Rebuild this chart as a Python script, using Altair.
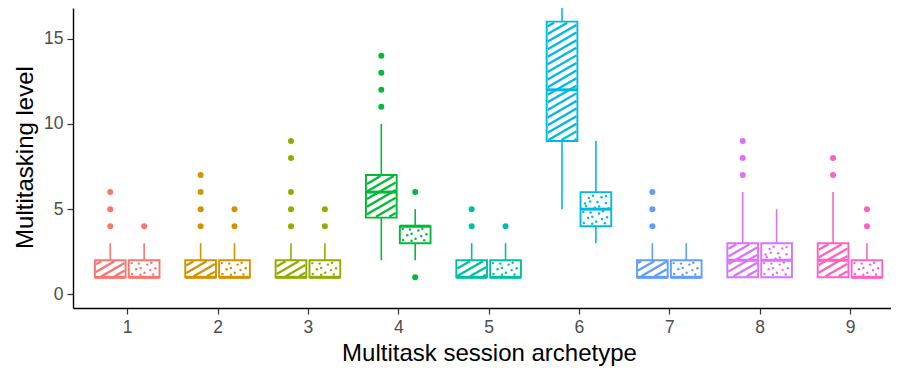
import math
import altair as alt
import pandas as pd

# ---- data ----
groups = [1, 2, 3, 4, 5, 6, 7, 8, 9]
colors = ["#F8766D", "#D39200", "#93AA00", "#00BA38", "#00C19F",
          "#00B9E3", "#619CFF", "#DB72FB", "#FF61C3"]

# striped boxes (first of each pair)
q1_a = [1, 1, 1, 4.5, 1, 9, 1, 1, 1]
med_a = [1, 1, 1, 6, 1, 12, 1, 2, 2]
q3_a = [2, 2, 2, 7, 2, 16, 2, 3, 3]
lo_a = [1, 1, 1, 2, 1, 5, 1, 1, 1]
hi_a = [3, 3, 3, 10, 3, 20, 3, 6, 6]
out_a = [[4, 5, 6], [4, 5, 6, 7], [4, 5, 6, 8, 9], [11, 12, 13, 14], [4, 5],
         [], [4, 5, 6], [7, 8, 9], [7, 8]]

# dotted boxes (second of each pair)
q1_b = [1, 1, 1, 3, 1, 4, 1, 1, 1]
med_b = [1, 1, 1, 4, 1, 5, 1, 2, 1]
q3_b = [2, 2, 2, 4, 2, 6, 2, 3, 2]
lo_b = [1, 1, 1, 2, 1, 3, 1, 1, 1]
hi_b = [3, 3, 3, 5, 3, 9, 3, 5, 3]
out_b = [[4], [4, 5], [4, 5], [6, 1], [4], [], [], [], [4, 5]]

x_ticks = [1, 2, 3, 4, 5, 6, 7, 8, 9]
y_ticks = [0, 5, 10, 15]

# ---- layout / scale constants ----
W, H = 818, 300
PXU = 90.35
XDOM = [0.4, 0.4 + W / PXU]
YDOM = [-0.8, 16.8]
pxu = W / (XDOM[1] - XDOM[0])
pyv = H / (YDOM[1] - YDOM[0])
BW = 0.34
DODGE = 0.1875

boxes, outs, hatch, dots = [], [], [], []
series = [("stripe", -DODGE, q1_a, med_a, q3_a, lo_a, hi_a, out_a),
          ("dot", DODGE, q1_b, med_b, q3_b, lo_b, hi_b, out_b)]
for kind, off, q1s, meds, q3s, los, his, outl in series:
    for i, g in enumerate(groups):
        xc = g + off
        xl, xr = xc - BW / 2, xc + BW / 2
        grp = str(g)
        boxes.append(dict(grp=grp, kind=kind, xc=xc, xl=xl, xr=xr, q1=q1s[i],
                          med=meds[i], q3=q3s[i], lo=los[i], hi=his[i]))
        for v in outl[i]:
            outs.append(dict(grp=grp, xc=xc, v=v))
        # pixel-space rectangle of the box (y up)
        inset = 1.0
        X0 = (xl - XDOM[0]) * pxu + inset
        X1 = (xr - XDOM[0]) * pxu - inset
        Y0 = (q1s[i] - YDOM[0]) * pyv + inset
        Y1 = (q3s[i] - YDOM[0]) * pyv - inset
        if kind == "stripe":
            t = math.tan(math.radians(30))
            step = 7.6
            kmin = math.floor((Y0 - t * X1) / step) - 1
            kmax = math.ceil((Y1 - t * X0) / step) + 1
            for k in range(kmin, kmax + 1):
                b = k * step
                xs = max(X0, (Y0 - b) / t)
                xe = min(X1, (Y1 - b) / t)
                if xe - xs > 0.8:
                    hatch.append(dict(grp=grp,
                                      x=XDOM[0] + xs / pxu, y=YDOM[0] + (t * xs + b) / pyv,
                                      x2=XDOM[0] + xe / pxu, y2=YDOM[0] + (t * xe + b) / pyv))
        else:
            jit = [0.0, 1.6, -1.2, 0.7, -1.7, 1.1, -0.5]
            jy = [0.0, -1.0, 1.2, -0.4, 0.9, -1.3, 0.5]
            r = 0
            yy = Y0 + 2.3
            while yy < Y1 - 1.2:
                j = 0
                xx = X0 + 2.3 + (r % 2) * 3.4
                while xx < X1 - 1.2:
                    n = (j + 3 * r) % 7
                    px = min(max(xx + jit[n], X0 + 1.5), X1 - 1.5)
                    py = min(max(yy + jy[n], Y0 + 1.5), Y1 - 1.5)
                    dots.append(dict(grp=grp, x=XDOM[0] + px / pxu, y=YDOM[0] + py / pyv))
                    xx += 6.8
                    j += 1
                yy += 5.2
                r += 1

box_df = pd.DataFrame(boxes)
out_df = pd.DataFrame(outs)
hatch_df = pd.DataFrame(hatch)
dot_df = pd.DataFrame(dots)

xs = alt.Scale(domain=XDOM, nice=False, zero=False)
ys = alt.Scale(domain=YDOM, nice=False, zero=False)
cs = alt.Scale(domain=[str(g) for g in groups], range=colors)
col = alt.Color("grp:N", scale=cs, legend=None)

xaxis = alt.Axis(values=x_ticks, format="d", grid=False, title="Multitask session archetype",
                 titleX=416, titleY=52, titleAlign="center", titleBaseline="alphabetic")
yaxis = alt.Axis(values=y_ticks, format="d", grid=False, title="Multitasking level",
                 titleX=-41, titleY=149, titleAngle=270, titleAlign="center",
                 titleBaseline="alphabetic")

base = alt.Chart(box_df)

whisk_hi = base.mark_rule(strokeWidth=1.6, clip=True).encode(
    x=alt.X("xc:Q", scale=xs, axis=xaxis), y=alt.Y("q3:Q", scale=ys, axis=yaxis),
    y2="hi:Q", color=col)
whisk_lo = base.mark_rule(strokeWidth=1.6, clip=True).encode(
    x=alt.X("xc:Q", scale=xs), y=alt.Y("lo:Q", scale=ys), y2="q1:Q", color=col)
box_fill = base.mark_rect(fill="white", clip=True).encode(
    x=alt.X("xl:Q", scale=xs), x2="xr:Q", y=alt.Y("q1:Q", scale=ys), y2="q3:Q")
hatch_l = alt.Chart(hatch_df).mark_rule(strokeWidth=2.3, strokeCap="butt", clip=True).encode(
    x=alt.X("x:Q", scale=xs), y=alt.Y("y:Q", scale=ys), x2="x2:Q", y2="y2:Q", color=col)
dot_l = alt.Chart(dot_df).mark_circle(size=6, opacity=1, clip=True).encode(
    x=alt.X("x:Q", scale=xs), y=alt.Y("y:Q", scale=ys), color=col)
box_border = base.mark_rect(fillOpacity=0, strokeWidth=1.9, clip=True).encode(
    x=alt.X("xl:Q", scale=xs), x2="xr:Q", y=alt.Y("q1:Q", scale=ys), y2="q3:Q",
    stroke=alt.Stroke("grp:N", scale=cs, legend=None))
median = base.mark_rule(strokeWidth=3, strokeCap="butt", clip=True).encode(
    x=alt.X("xl:Q", scale=xs), x2="xr:Q", y=alt.Y("med:Q", scale=ys), color=col)
outl = alt.Chart(out_df).mark_circle(size=36, opacity=1, clip=True).encode(
    x=alt.X("xc:Q", scale=xs), y=alt.Y("v:Q", scale=ys), color=col)

chart = alt.layer(whisk_hi, whisk_lo, box_fill, hatch_l, dot_l, box_border, median, outl).properties(
    width=W, height=H,
    padding={"left": 65, "top": 0, "right": 0, "bottom": 58},
    autosize=alt.AutoSizeParams(type="none"),
).configure_view(stroke="transparent").configure_axis(
    labelFont="Liberation Sans", titleFont="Liberation Sans",
    labelFontSize=17.5, labelColor="#4D4D4D", titleFontSize=24, titleFontWeight="normal",
    titleColor="black", domainColor="black", domainWidth=1.4, tickColor="#333333",
    tickWidth=1.2, tickSize=6, labelPadding=4,
)

chart.save("out.html", embed_options={"renderer": "svg", "actions": False})
